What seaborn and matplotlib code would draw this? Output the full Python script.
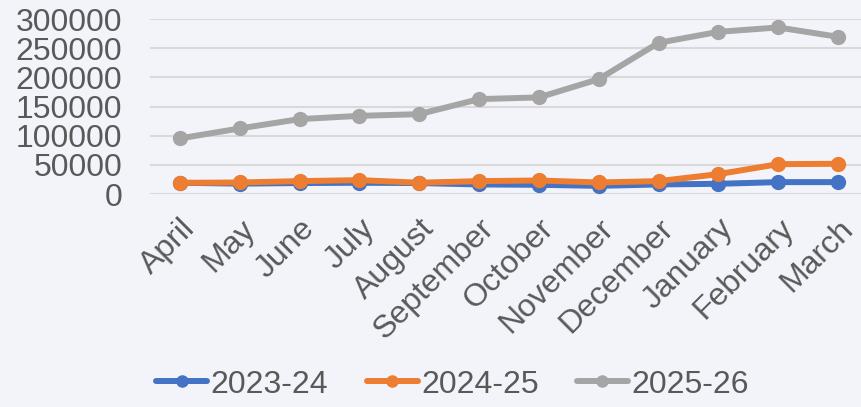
import pandas as pd
import numpy as np
import matplotlib.pyplot as plt
import seaborn as sns

months = ['April', 'May', 'June', 'July', 'August', 'September', 'October',
          'November', 'December', 'January', 'February', 'March']
fy_2023_24 = [19500, 18000, 19000, 19500, 19000, 16600, 16000, 14200, 16600, 17700, 20600, 20600]
fy_2024_25 = [19400, 20000, 22300, 24000, 19600, 22300, 23400, 20000, 22300, 34300, 51400, 52000]
fy_2025_26 = [95500, 112600, 128600, 134200, 137100, 162900, 165800, 197100, 259400, 278200, 285700, 269700]
series_names = ['2023-24', '2024-25', '2025-26']
colors = ['#4472C4', '#ED7D31', '#A5A5A5']

df = pd.DataFrame({
    'Month': months * 3,
    'Value': fy_2023_24 + fy_2024_25 + fy_2025_26,
    'Year': np.repeat(series_names, len(months)),
})
df['idx'] = list(range(len(months))) * 3

bg = '#F2F4F9'
sns.set_theme(style='white', rc={'axes.facecolor': bg, 'figure.facecolor': bg})
plt.rcParams['font.family'] = ['Liberation Sans', 'DejaVu Sans']

fig = plt.figure(figsize=(8.62, 4.07), dpi=100)
ax = fig.add_axes([0.174, 0.523, 0.826, 0.43])
sns.lineplot(data=df, x='idx', y='Value', hue='Year', palette=colors,
             marker='o', markersize=11, markeredgewidth=0, linewidth=4.3,
             ax=ax, legend=False)

ax.set_ylim(0, 300000)
ax.set_yticks(range(0, 300001, 50000))
ax.set_xlim(-0.5, 11.4)
ax.set_xticks(range(len(months)))
ax.set_xticklabels(months, rotation=45, ha='right', rotation_mode='anchor')
ax.grid(axis='y', color='#D9D9D9', linewidth=1.5)
ax.set_axisbelow(True)
for s in ax.spines.values():
    s.set_visible(False)
ax.tick_params(axis='both', length=0, labelsize=23, labelcolor='#595959')
ax.tick_params(axis='y', pad=20)
ax.tick_params(axis='x', pad=14)
ax.set_xlabel('')
ax.set_ylabel('')

handles = [plt.Line2D([], [], color=c, linewidth=4.3, marker='o', markersize=8)
           for c in colors]
fig.legend(handles, series_names, loc='center', bbox_to_anchor=(0.525, 0.055),
           ncol=3, frameon=False, fontsize=23, labelcolor='#595959',
           handlelength=1.6, handletextpad=0.1, columnspacing=1.2)

fig.savefig('out.png', dpi=100, facecolor=bg)
